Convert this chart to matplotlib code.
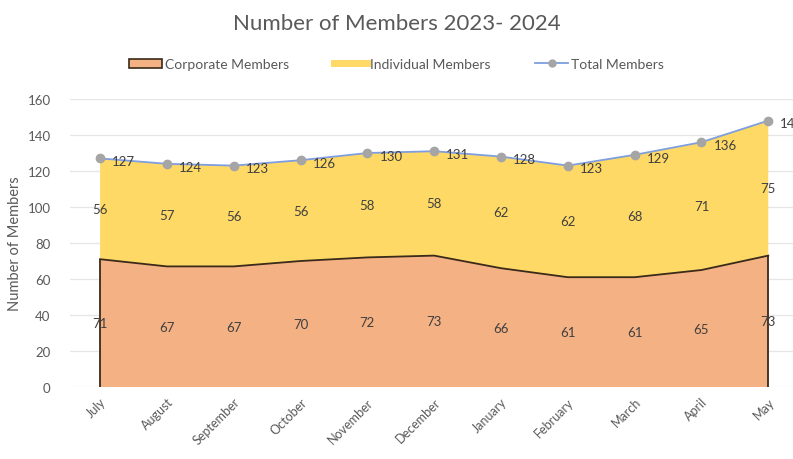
import matplotlib.pyplot as plt
from matplotlib.patches import Patch
from matplotlib.lines import Line2D
import numpy as np

months = ["July", "August", "September", "October", "November", "December",
          "January", "February", "March", "April", "May"]
corporate = [71, 67, 67, 70, 72, 73, 66, 61, 61, 65, 73]
individual = [56, 57, 56, 56, 58, 58, 62, 62, 68, 71, 75]
total = [127, 124, 123, 126, 130, 131, 128, 123, 129, 136, 148]

plt.rcParams["font.family"] = ["Lato", "DejaVu Sans"]

fig = plt.figure(figsize=(7.93, 4.6), dpi=100)
ax = fig.add_axes([0.0883, 0.1565, 0.9117, 0.6261])

x = np.arange(len(months))
ax.stackplot(x, corporate, individual, colors=["#F4B183", "#FFD966"], zorder=2)
ax.plot(x, corporate, color="#3a2a1a", lw=1.3, zorder=3)
ax.vlines([x[0], x[-1]], 0, [corporate[0], corporate[-1]], color="#3a2a1a", lw=1.3, zorder=3)
ax.plot(x, total, color="#7f9ee0", lw=1.3, marker="o", markersize=6,
        markerfacecolor="#a5a5a5", markeredgecolor="#a5a5a5", zorder=4)

for i in range(len(months)):
    ax.text(x[i], corporate[i] / 2, str(corporate[i]), ha="center", va="center",
            fontsize=9.5, color="#404040", zorder=5)
    ax.text(x[i], corporate[i] + individual[i] / 2, str(individual[i]), ha="center",
            va="center", fontsize=9.5, color="#404040", zorder=5)
    ax.text(x[i] + 0.18, total[i] - 1.5, str(total[i]), ha="left", va="center",
            fontsize=9.5, color="#404040", zorder=5, clip_on=False)

ax.set_xlim(-0.45, 10.37)
ax.set_ylim(0, 160)
ax.set_yticks(range(0, 161, 20))
ax.set_xticks(x)
ax.set_xticklabels(months, rotation=45, ha="right", rotation_mode="anchor",
                   fontsize=9, color="#595959")
ax.tick_params(axis="y", labelsize=9.5, labelcolor="#595959", length=0, pad=14)
ax.tick_params(axis="x", length=0, pad=6)
ax.grid(axis="y", color="#e6e6e6", lw=0.9, zorder=0)
for s in ax.spines.values():
    s.set_visible(False)
ax.set_ylabel("Number of Members", fontsize=10.5, color="#595959", labelpad=4)

fig.suptitle("Number of Members 2023- 2024", fontsize=16, color="#595959", y=0.97)

handles = [Patch(facecolor="#F4B183", edgecolor="#3a2a1a", lw=1.2),
           Line2D([0], [0], color="#FFD966", lw=5),
           Line2D([0], [0], color="#7f9ee0", lw=1.3, marker="o", markersize=5,
                  markerfacecolor="#a5a5a5", markeredgecolor="#a5a5a5")]
fig.legend(handles, ["Corporate Members", "Individual Members", "Total Members"],
           loc="center", bbox_to_anchor=(0.5, 0.858), ncol=3, frameon=False,
           fontsize=10, labelcolor="#595959", handlelength=2.4, handletextpad=0.2,
           columnspacing=3.2)

fig.savefig("out.png", dpi=100)
